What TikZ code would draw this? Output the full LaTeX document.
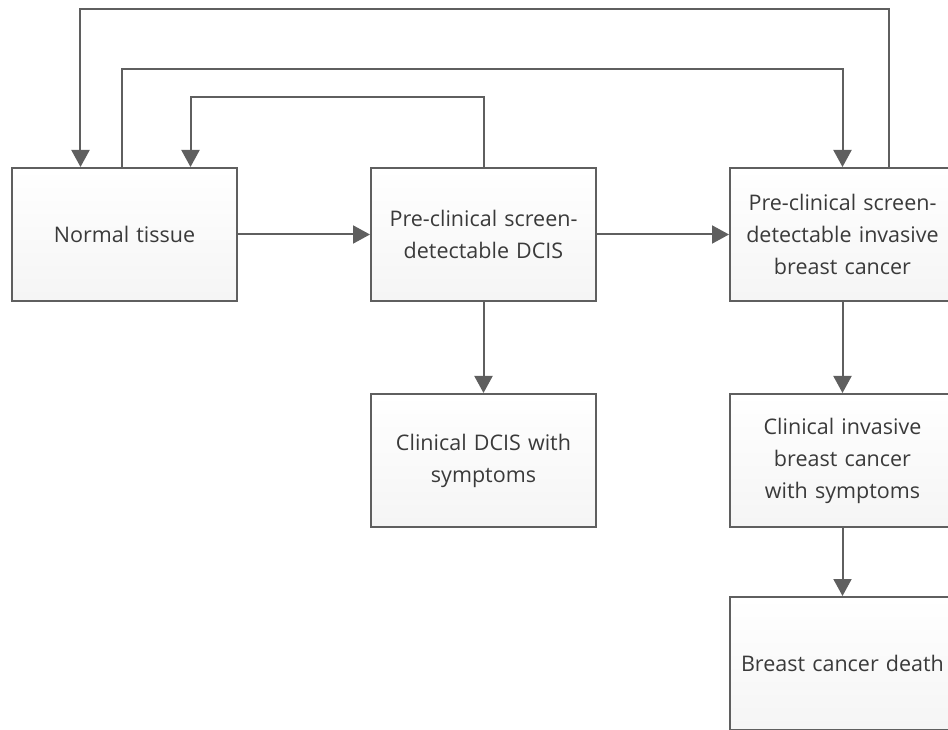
\documentclass[tikz,border=0pt]{standalone}
\usepackage{fontspec}
\setmainfont{Open Sans}
\usepackage{tikz}
\usetikzlibrary{positioning, arrows.meta}
\definecolor{linegray}{HTML}{5F5F5F}
\definecolor{textgray}{HTML}{3A3A3A}
\tikzset{
	stage/.style={
		draw=linegray,
		line width=2pt,
		top color=white,
		bottom color=black!4,
		align=center,
		text=textgray,
		text width=222pt,
		inner xsep=1pt,
		minimum width=225pt,
		minimum height=133pt,
		font={\fontsize{21.5}{32}\selectfont},
	},
	flow/.style={
		draw=linegray,
		line width=2pt,
		-{Triangle[length=17pt,width=18pt]},
	},
	node distance=132pt,
}
\begin{document}
\begin{tikzpicture}
	\useasboundingbox (-124.5pt,234.5pt) rectangle (823.5pt,-495.5pt);
	\node(normal)[stage]{Normal tissue};
	\node(dcis)[stage, right=of normal]{Pre-clinical screen-\\detectable DCIS};
	\node(invasive)[stage, right=of dcis]{Pre-clinical screen-\\detectable invasive\\breast cancer};
	
	\node(clindcis)[stage, below=91pt of dcis]{Clinical DCIS with\\symptoms};
	\node(clininv)[stage, below=91pt of invasive]{Clinical invasive\\breast cancer\\with symptoms};
	\node(death)[stage, below=68pt of clininv]{Breast cancer death};
	
	\draw[flow] (normal) -- (dcis);
	\draw[flow] (dcis) -- (invasive);
	\draw[flow] (dcis) -- (clindcis);
	\draw[flow] (invasive) -- (clininv);
	\draw[flow] (clininv) -- (death);
	
	% loops over the top
	\draw[flow] ([xshift=46pt]invasive.north) -- ++(0,158pt) -| ([xshift=-44pt]normal.north);
	\draw[flow] ([xshift=-2pt]normal.north) -- ++(0,98pt) -| (invasive.north);
	\draw[flow] (dcis.north) -- ++(0,70pt) -| ([xshift=66pt]normal.north);
\end{tikzpicture}
\end{document}
